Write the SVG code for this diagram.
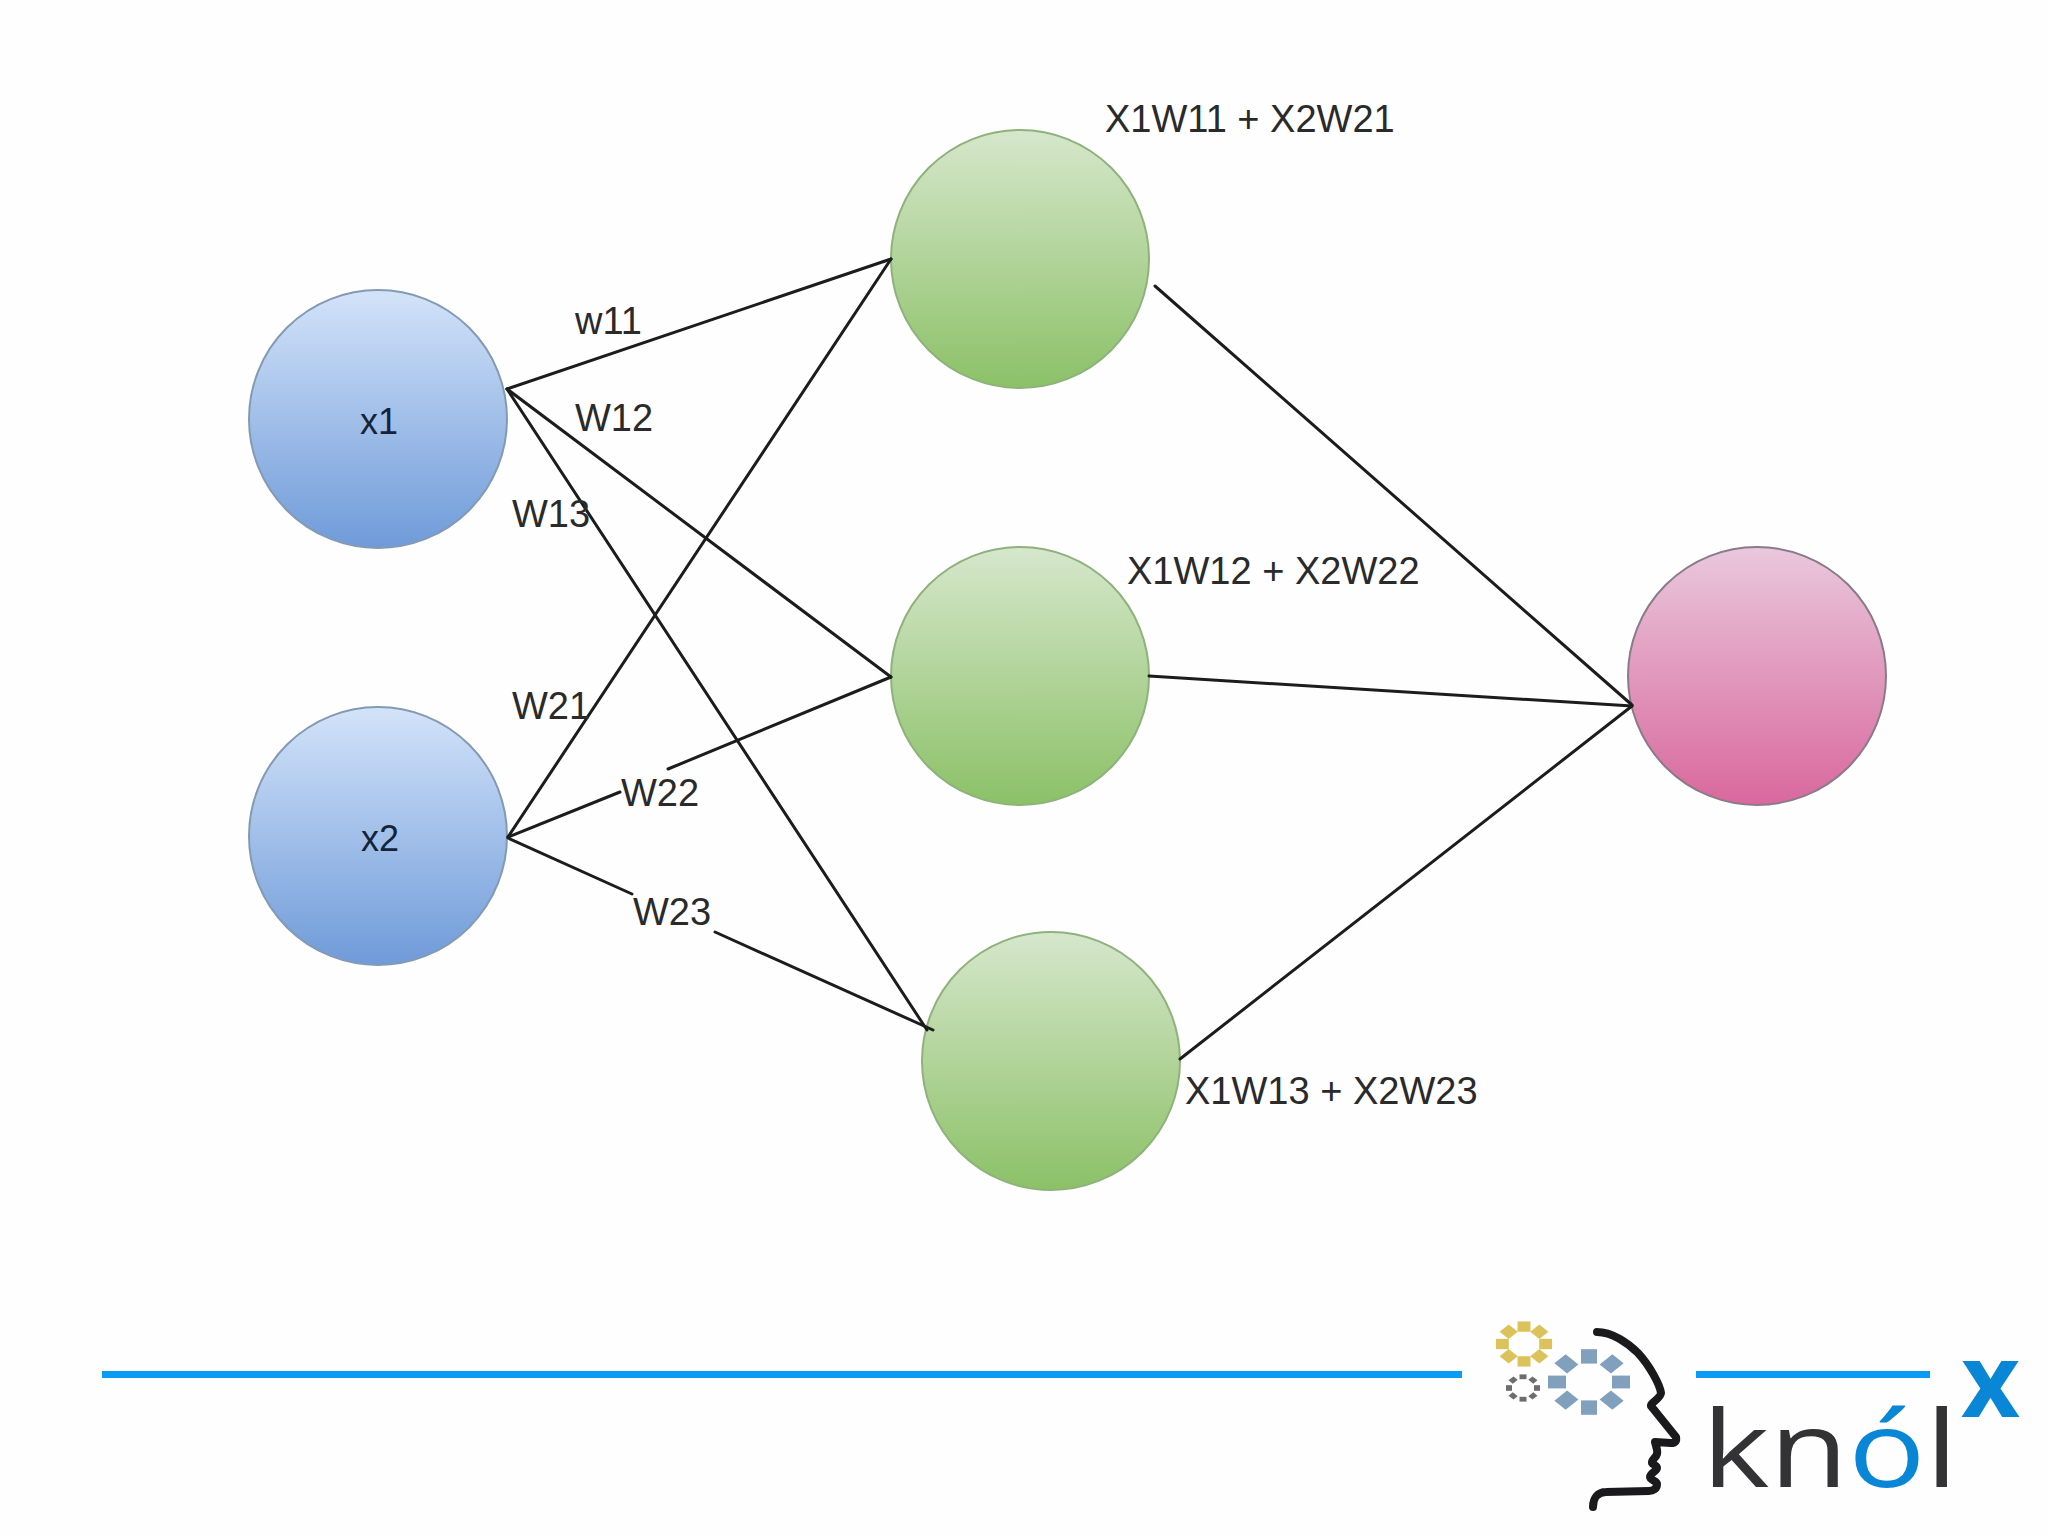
<svg xmlns="http://www.w3.org/2000/svg" width="2048" height="1535" viewBox="0 0 2048 1535">
<style>
.blue{fill:url(#gb);stroke:#8499b4;stroke-width:2}
.green{fill:url(#gg);stroke:#8fb27c;stroke-width:2}
.pink{fill:url(#gp);stroke:#8b7a88;stroke-width:2}
.t{font-family:"Liberation Sans",Arial,sans-serif;font-size:38px;fill:#2a2a2a}
.n{text-anchor:middle;fill:#14233a;font-size:36px}
.c line{stroke:#1c1c1c;stroke-width:3;stroke-linecap:round}
.bar{fill:#0a9bf5}
.logo{font-family:"Open Sans","Noto Sans",sans-serif}
</style>
<defs>
<linearGradient id="gb" x1="0" y1="0" x2="0" y2="1"><stop offset="0" stop-color="#d3e3f9"/><stop offset="1" stop-color="#6f9bd9"/></linearGradient>
<linearGradient id="gg" x1="0" y1="0" x2="0" y2="1"><stop offset="0" stop-color="#d6e7cc"/><stop offset="1" stop-color="#8cc167"/></linearGradient>
<linearGradient id="gp" x1="0" y1="0" x2="0" y2="1"><stop offset="0" stop-color="#e9c8dc"/><stop offset="1" stop-color="#d9689d"/></linearGradient>
<g id="gearY"><rect x="-5.5" y="-24" width="11" height="11"/><rect x="-5.5" y="-24" width="11" height="11" transform="rotate(45)"/><rect x="-5.5" y="-24" width="11" height="11" transform="rotate(90)"/><rect x="-5.5" y="-24" width="11" height="11" transform="rotate(135)"/><rect x="-5.5" y="-24" width="11" height="11" transform="rotate(180)"/><rect x="-5.5" y="-24" width="11" height="11" transform="rotate(225)"/><rect x="-5.5" y="-24" width="11" height="11" transform="rotate(270)"/><rect x="-5.5" y="-24" width="11" height="11" transform="rotate(315)"/></g>
<g id="gearB"><rect x="-8" y="-41" width="16" height="18"/><rect x="-8" y="-41" width="16" height="18" transform="rotate(45)"/><rect x="-8" y="-41" width="16" height="18" transform="rotate(90)"/><rect x="-8" y="-41" width="16" height="18" transform="rotate(135)"/><rect x="-8" y="-41" width="16" height="18" transform="rotate(180)"/><rect x="-8" y="-41" width="16" height="18" transform="rotate(225)"/><rect x="-8" y="-41" width="16" height="18" transform="rotate(270)"/><rect x="-8" y="-41" width="16" height="18" transform="rotate(315)"/></g>
<g id="gearG"><rect x="-3.5" y="-17" width="7" height="6"/><rect x="-3.5" y="-17" width="7" height="6" transform="rotate(45)"/><rect x="-3.5" y="-17" width="7" height="6" transform="rotate(90)"/><rect x="-3.5" y="-17" width="7" height="6" transform="rotate(135)"/><rect x="-3.5" y="-17" width="7" height="6" transform="rotate(180)"/><rect x="-3.5" y="-17" width="7" height="6" transform="rotate(225)"/><rect x="-3.5" y="-17" width="7" height="6" transform="rotate(270)"/><rect x="-3.5" y="-17" width="7" height="6" transform="rotate(315)"/></g>
</defs>
<rect width="2048" height="1535" fill="#fefefe"/>
<g id="n-x1"><circle class="blue" cx="378" cy="419" r="129"/><text class="t n" x="379" y="434">x1</text></g>
<g id="n-x2"><circle class="blue" cx="378" cy="836" r="129"/><text class="t n" x="380" y="851">x2</text></g>
<g id="n-h1"><circle class="green" cx="1020" cy="259" r="129"/><text class="t" x="1105" y="132">X1W11 + X2W21</text></g>
<g id="n-h2"><circle class="green" cx="1020" cy="676" r="129"/><text class="t" x="1127" y="584">X1W12 + X2W22</text></g>
<g id="n-h3"><circle class="green" cx="1051" cy="1061" r="129"/><text class="t" x="1185" y="1104">X1W13 + X2W23</text></g>
<g id="n-out"><circle class="pink" cx="1757" cy="676" r="129"/></g>
<g id="connectors" class="c">
<line x1="507" y1="389" x2="891" y2="259"/>
<line x1="507" y1="389" x2="891" y2="677"/>
<line x1="507" y1="389" x2="927" y2="1030"/>
<line x1="508" y1="837" x2="891" y2="259"/>
<line x1="508" y1="837" x2="620" y2="792"/>
<line x1="668" y1="769" x2="891" y2="677"/>
<line x1="508" y1="838" x2="632" y2="894"/>
<line x1="715" y1="932" x2="933" y2="1030"/>
<line x1="1155" y1="286" x2="1632" y2="705"/>
<line x1="1149" y1="676" x2="1632" y2="706"/>
<line x1="1180" y1="1059" x2="1632" y2="706"/>
</g>
<g id="labels">
<text class="t" x="575" y="334">w11</text>
<text class="t" x="575" y="431">W12</text>
<text class="t" x="512" y="527">W13</text>
<text class="t" x="512" y="719">W21</text>
<text class="t" x="621" y="806">W22</text>
<text class="t" x="633" y="925">W23</text>
</g>
<g id="footer">
<rect class="bar" x="102" y="1371" width="1360" height="7"/>
<rect class="bar" x="1696" y="1371" width="234" height="7"/>
<use href="#gearY" transform="translate(1524 1344) scale(1.17 .94)" fill="#dcc25a"/>
<use href="#gearB" transform="translate(1589 1382) scale(1 .8)" fill="#81a0bd"/>
<use href="#gearG" transform="translate(1523 1388) scale(1 .8)" fill="#6d6d70"/>
<path d="M1597 1332C1612 1332 1628 1343 1638 1353C1650 1366 1660 1385 1661 1393C1661 1398 1650 1403 1651 1406L1676 1437C1677 1441 1675 1443 1671 1443L1655 1442C1656 1447 1658 1450 1657 1454C1656 1458 1651 1460 1652 1463C1653 1465 1657 1465 1657 1468C1657 1471 1650 1473 1650 1477C1650 1480 1657 1481 1657 1484C1657 1489 1653 1491 1649 1491L1606 1492C1598 1492 1593 1498 1593 1507" fill="none" stroke="#1a1a1c" stroke-width="8" stroke-linecap="round" stroke-linejoin="round"/>
<text class="logo" x="1702" y="1487" font-size="107" font-weight="500" fill="#333336" textLength="256" lengthAdjust="spacingAndGlyphs">kn<tspan fill="#0a86d6">ó</tspan>l</text>
<text class="logo" x="1961" y="1417" font-size="102" font-weight="700" fill="#0a86d6">x</text>
</g>
</svg>
